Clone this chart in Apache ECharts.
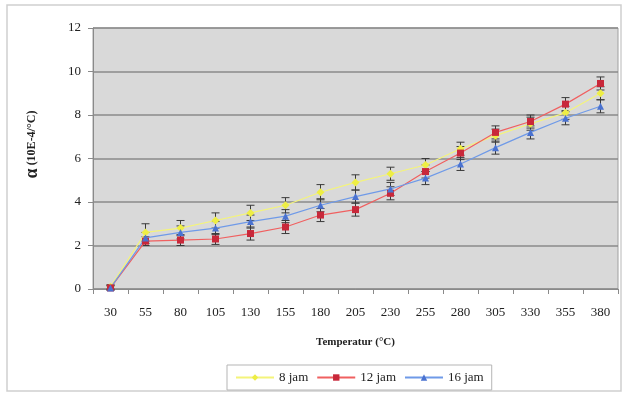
<!DOCTYPE html>
<html>
<head>
<meta charset="utf-8">
<script src="https://cdn.jsdelivr.net/npm/echarts@6/dist/echarts.min.js"></script>
<style>
  html, body { margin: 0; padding: 0; background: #fff; }
  #chart { width: 624px; height: 394px; }
</style>
</head>
<body>
<div id="chart"></div>
<script>
// temperatures (°C)
const categories = ["30", "55", "80", "105", "130", "155", "180", "205", "230", "255", "280", "305", "330", "355", "380"];

// alpha values (10E-4/°C)
const jam8 = [0.1, 2.6, 2.8, 3.15, 3.5, 3.85, 4.45, 4.9, 5.3, 5.7, 6.45, 7.05, 7.6, 8.1, 9.0];
const jam12 = [0.05, 2.2, 2.25, 2.3, 2.55, 2.85, 3.4, 3.65, 4.4, 5.4, 6.25, 7.2, 7.7, 8.5, 9.45];
const jam16 = [0.05, 2.35, 2.6, 2.8, 3.1, 3.35, 3.85, 4.25, 4.6, 5.1, 5.75, 6.5, 7.2, 7.85, 8.4];

// error bar half-widths
const err8 = [0.1, 0.4, 0.35, 0.35, 0.35, 0.35, 0.35, 0.35, 0.3, 0.3, 0.3, 0.3, 0.3, 0.3, 0.3];
const err12 = [0.1, 0.2, 0.25, 0.25, 0.3, 0.3, 0.3, 0.3, 0.3, 0.3, 0.3, 0.3, 0.3, 0.3, 0.3];
const err16 = [0.1, 0.25, 0.3, 0.3, 0.3, 0.3, 0.3, 0.3, 0.3, 0.3, 0.3, 0.3, 0.3, 0.3, 0.3];

const FONT = "Liberation Serif";

const chart = echarts.init(document.getElementById("chart"));

// custom series drawing vertical error bars with caps
function errorSeries(values, errs) {
  return {
    type: "custom",
    z: 3,
    data: values.map((v, i) => [i, v - errs[i], v + errs[i]]),
    renderItem: (params, api) => {
      const lo = api.coord([api.value(0), api.value(1)]);
      const hi = api.coord([api.value(0), api.value(2)]);
      const w = 4;
      const style = { stroke: "#3a3a3a", lineWidth: 1 };
      return {
        type: "group",
        children: [
          { type: "line", shape: { x1: hi[0], y1: hi[1], x2: lo[0], y2: lo[1] }, style },
          { type: "line", shape: { x1: hi[0] - w, y1: hi[1], x2: hi[0] + w, y2: hi[1] }, style },
          { type: "line", shape: { x1: lo[0] - w, y1: lo[1], x2: lo[0] + w, y2: lo[1] }, style },
        ],
      };
    },
  };
}

const option = {
  animation: false,
  backgroundColor: "#fff",
  textStyle: { fontFamily: FONT },
  graphic: [
    {
      type: "rect",
      shape: { x: 7, y: 5, width: 614, height: 386 },
      style: { fill: "none", stroke: "#cfcfcf", lineWidth: 1.5 },
      silent: true,
    },
  ],
  grid: { left: 93, right: 6, top: 28, bottom: 105, show: true, backgroundColor: "#d9d9d9", borderColor: "#a0a0a0", borderWidth: 1 },
  legend: {
    left: 227,
    bottom: 4,
    itemWidth: 38,
    itemHeight: 8,
    itemGap: 8,
    padding: [6, 8],
    borderColor: "#b5b5b5",
    borderWidth: 1,
    textStyle: { fontFamily: FONT, fontSize: 13, color: "#222" },
    data: ["8 jam", "12 jam", "16 jam"],
  },
  xAxis: {
    type: "category",
    data: categories,
    boundaryGap: true,
    name: "Temperatur (°C)",
    nameLocation: "middle",
    nameGap: 48,
    nameTextStyle: { fontFamily: FONT, fontWeight: "bold", fontSize: 11, color: "#222" },
    axisLine: { lineStyle: { color: "#8a8a8a" } },
    axisTick: { show: true, length: 5, lineStyle: { color: "#8a8a8a" } },
    axisLabel: { margin: 17, fontFamily: FONT, fontSize: 13, color: "#222", interval: 0 },
  },
  yAxis: {
    type: "value",
    min: 0,
    max: 12,
    interval: 2,
    name: "{a|α}{b| (10E-4/°C)}",
    nameLocation: "middle",
    nameGap: 52,
    nameTextStyle: {
      padding: [0, 0, 0, 28],
      rich: {
        a: { fontFamily: FONT, fontWeight: "bold", fontSize: 18, color: "#222" },
        b: { fontFamily: FONT, fontWeight: "bold", fontSize: 12, color: "#222" },
      },
    },
    axisLine: { show: true, lineStyle: { color: "#8a8a8a" } },
    axisTick: { show: true, length: 5, lineStyle: { color: "#8a8a8a" } },
    axisLabel: { margin: 12, fontFamily: FONT, fontSize: 13, color: "#222" },
    splitLine: { lineStyle: { color: "#8a8a8a", width: 1.5 } },
  },
  series: [
    {
      name: "8 jam",
      type: "line",
      data: jam8,
      symbol: "diamond",
      symbolSize: 8,
      z: 4,
      lineStyle: { color: "#f4f47a", width: 1.2 },
      itemStyle: { color: "#eeee44" },
    },
    {
      name: "12 jam",
      type: "line",
      data: jam12,
      symbol: "rect",
      symbolSize: 7,
      z: 4,
      lineStyle: { color: "#f06060", width: 1.2 },
      itemStyle: { color: "#c8283a" },
    },
    {
      name: "16 jam",
      type: "line",
      data: jam16,
      symbol: "triangle",
      symbolSize: 7,
      z: 4,
      lineStyle: { color: "#6f9ae8", width: 1.2 },
      itemStyle: { color: "#4a72d0" },
    },
    errorSeries(jam8, err8),
    errorSeries(jam12, err12),
    errorSeries(jam16, err16),
  ],
};

chart.setOption(option);
</script>
</body>
</html>
